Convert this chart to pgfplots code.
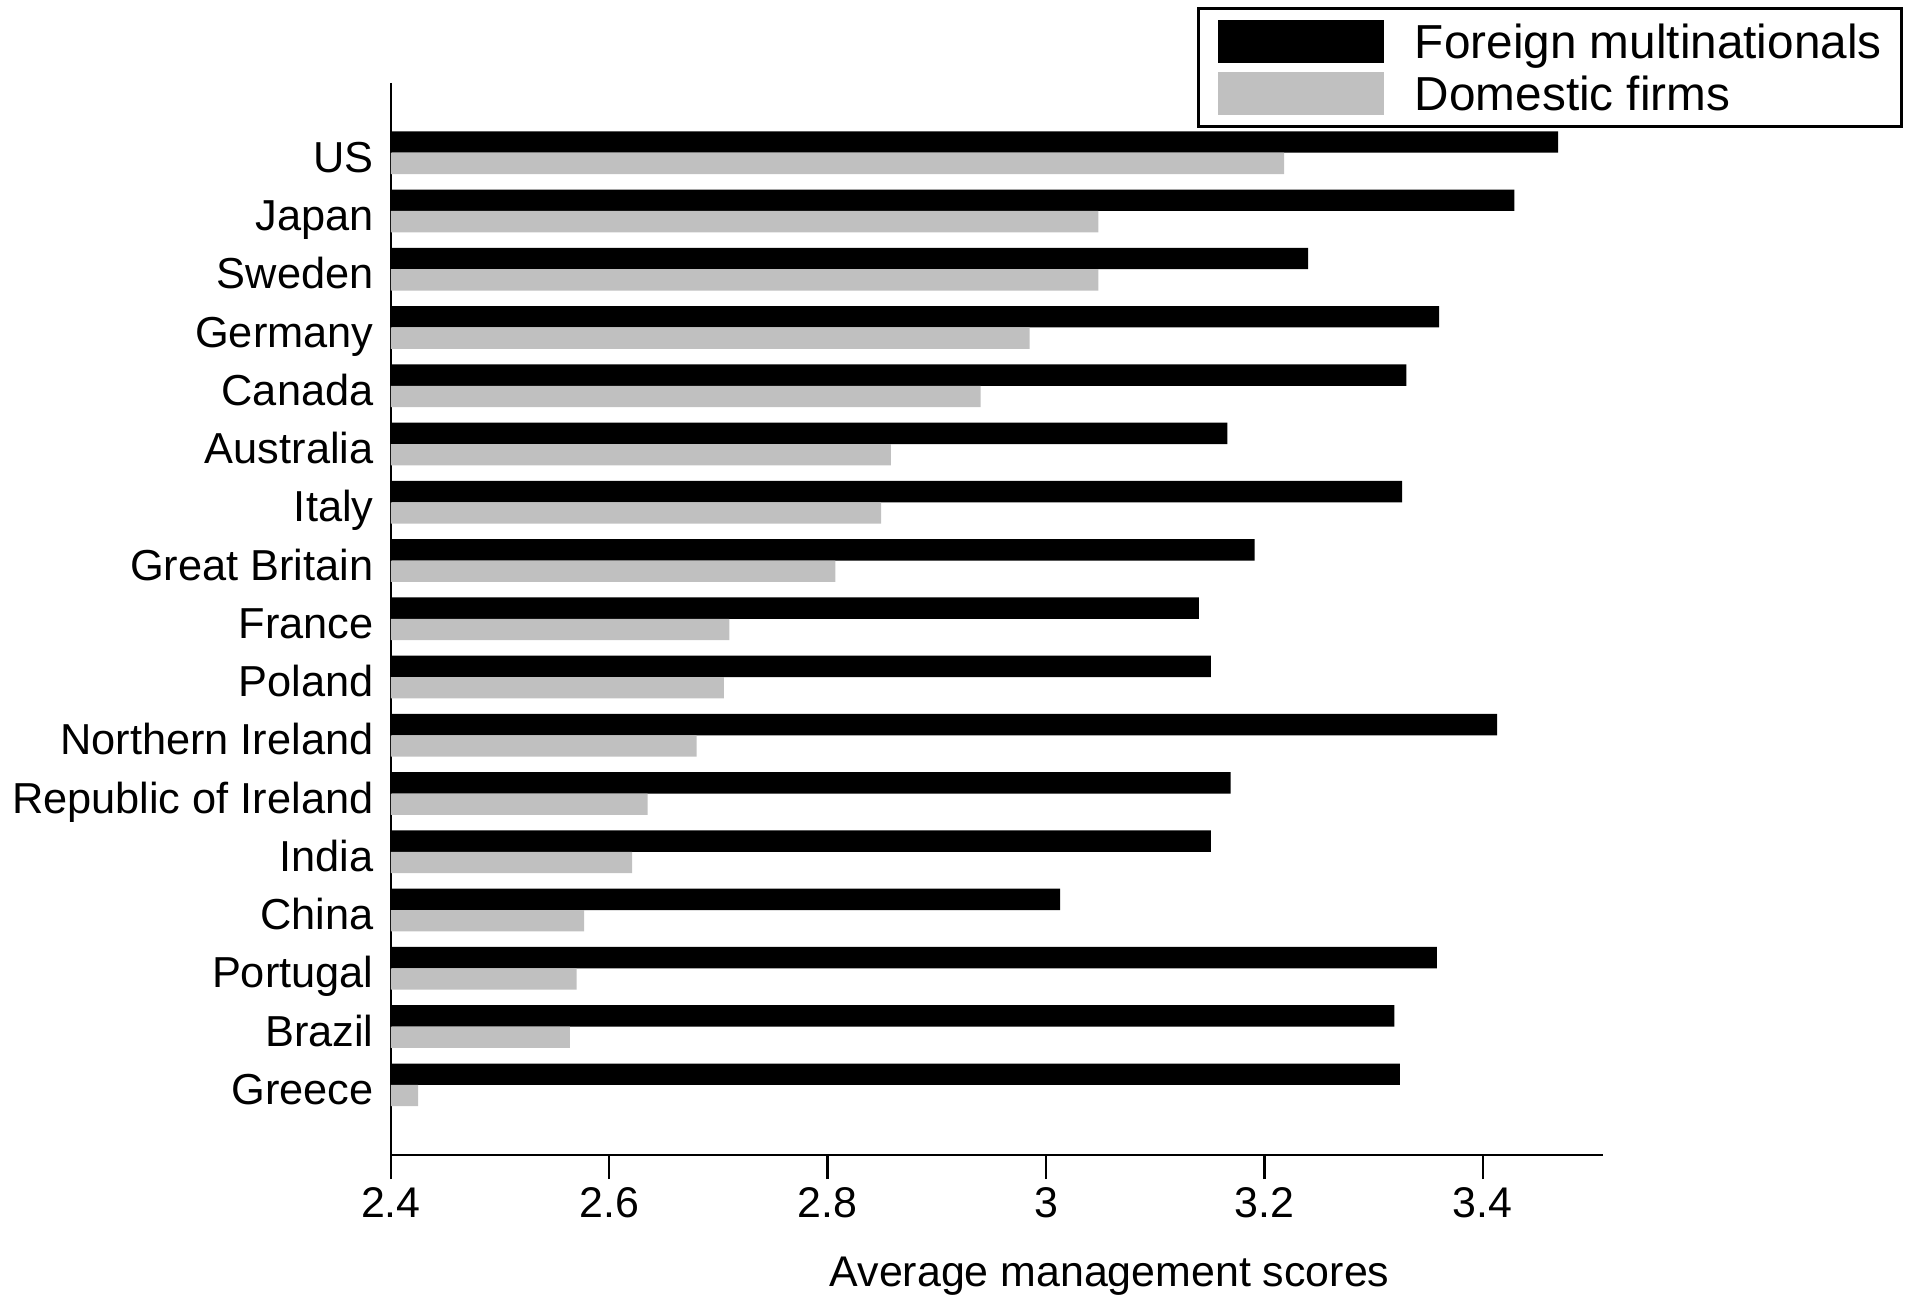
\documentclass[border=0pt]{standalone}
\usepackage{fontspec}
\setmainfont{Liberation Sans}
\usepackage{pgfplots}
\pgfplotsset{compat=1.18}
\definecolor{domgray}{RGB}{192,192,192}
\begin{document}
\begin{tikzpicture}
\useasboundingbox (0,0) rectangle (636pt,432pt);
\begin{axis}[
  at={(130.3pt,47.1pt)}, anchor=south west,
  width=404pt, height=357.3pt, scale only axis,
  xbar, bar width=0.366,
  y dir=reverse,
  xmin=2.4, xmax=3.51, ymin=-1.2, ymax=17.2,
  axis x line*=bottom, axis y line*=left,
  axis line style={line width=0.8pt, -},
  xtick={2.4,2.6,2.8,3,3.2,3.4},
  xticklabels={2.4,2.6,2.8,3,3.2,3.4},
  ytick={0,...,16},
  yticklabels={US,Japan,Sweden,Germany,Canada,Australia,Italy,Great Britain,France,Poland,Northern Ireland,Republic of Ireland,India,China,Portugal,Brazil,Greece},
  tick align=outside,
  major tick length=8.1pt,
  xtick style={line width=0.8pt, black},
  ytick style={draw=none},
  tick label style={font=\fontsize{14.3}{17}\selectfont, inner sep=0pt},
  y tick label style={font=\fontsize{14.45}{17}\selectfont, xshift=2.5pt, yshift=-1.4pt, text height=10.3pt, text depth=0pt},
  x tick label style={yshift=-2.8pt},
  xlabel={Average management scores},
  xlabel style={at={(axis description cs:0.593,0)}, anchor=base, yshift=-43.9pt, font=\fontsize{14.3}{17}\selectfont},
  legend style={at={(axis description cs:0.665,1.0705)}, anchor=north west, draw=black, line width=1pt,
    font=\fontsize{15.9}{19}\selectfont, inner xsep=6.5pt, inner ysep=2.2pt, column sep=10.3pt, row sep=0pt,
    nodes={inner sep=0pt, text height=14.3pt, text depth=3.1pt}},
  legend cell align=left,
]
\addplot[fill=black, draw=none, bar shift=-0.183,
  legend image code/.code={\fill[black] (0pt,-7.2pt) rectangle (55.4pt,7.2pt);}]
  coordinates {(3.469,0) (3.429,1) (3.240,2) (3.360,3) (3.330,4) (3.166,5) (3.326,6) (3.191,7) (3.140,8) (3.151,9) (3.413,10) (3.169,11) (3.151,12) (3.013,13) (3.358,14) (3.319,15) (3.324,16)};
\addlegendentry{Foreign multinationals}
\addplot[fill=domgray, draw=none, bar shift=0.183,
  legend image code/.code={\fill[domgray] (0pt,-7.2pt) rectangle (55.4pt,7.2pt);}]
  coordinates {(3.218,0) (3.048,1) (3.048,2) (2.985,3) (2.940,4) (2.858,5) (2.849,6) (2.807,7) (2.710,8) (2.705,9) (2.680,10) (2.635,11) (2.621,12) (2.577,13) (2.570,14) (2.564,15) (2.425,16)};
\addlegendentry{Domestic firms}
\end{axis}
\end{tikzpicture}
\end{document}
